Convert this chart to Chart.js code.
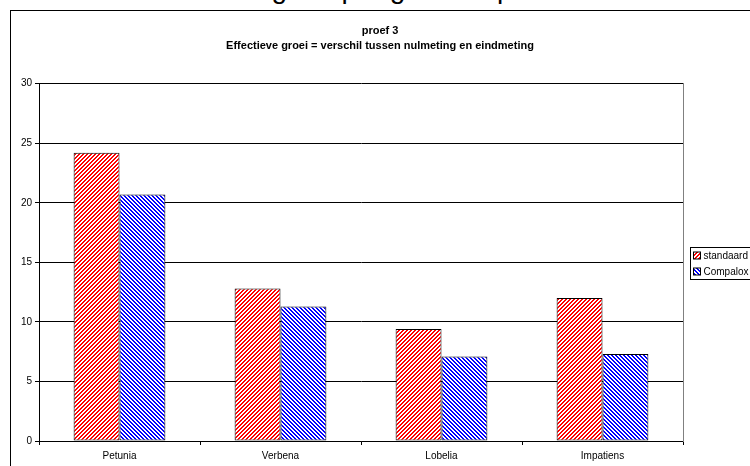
<!DOCTYPE html>
<html>
<head>
<meta charset="utf-8">
<script src="https://cdn.jsdelivr.net/npm/chart.js@4"></script>
<style>
  html, body { margin: 0; padding: 0; background: #fff; overflow: hidden; }
  #wrap { position: relative; width: 750px; height: 466px; }
  #caption { position: absolute; left: 12px; top: -25px; font: 28px/28px "Liberation Sans", Arial, sans-serif; color: #000; white-space: nowrap; }
  #frame { position: absolute; left: 10px; top: 10px; width: 780px; height: 480px; border: 1px solid #000; box-sizing: border-box; }
  canvas { position: absolute; left: 0; top: 0; }
</style>
</head>
<body>
<div id="wrap">
  <div id="caption">Grafiek 3: Effectieve groei per gebruikt product</div>
  <div id="frame"></div>
  <canvas id="chart" width="750" height="466"></canvas>
</div>
<script>
  const categories = ['Petunia', 'Verbena', 'Lobelia', 'Impatiens'];
  const standaard = [24.2, 12.8, 9.4, 12.0];
  const compalox = [20.7, 11.3, 7.1, 7.3];
  const titleLines = ['proef 3', 'Effectieve groei = verschil tussen nulmeting en eindmeting'];

  const font = '"Liberation Sans", Arial, sans-serif';
  Chart.defaults.font.family = font;
  Chart.defaults.color = '#000';

  // small pixel tiles, like the excel fill patterns
  const makePattern = (color, isOn) => {
    const tile = document.createElement('canvas');
    tile.width = 4;
    tile.height = 4;
    const tctx = tile.getContext('2d');
    tctx.fillStyle = '#fff';
    tctx.fillRect(0, 0, 4, 4);
    tctx.fillStyle = color;
    for (let x = 0; x < 4; x++) {
      for (let y = 0; y < 4; y++) {
        if (isOn(x, y)) tctx.fillRect(x, y, 1, 1);
      }
    }
    return tctx.createPattern(tile, 'repeat');
  };

  const redFill = makePattern('#ff0000', (x, y) => (x + y) % 4 < 2);
  const blueFill = makePattern('#0000ff', (x, y) => (x - y + 8) % 4 < 2);

  const legendBox = {
    id: 'legendBox',
    afterDraw(chart) {
      const ctx = chart.ctx;
      const x = 690.5;
      const y = 247.5;
      ctx.save();
      ctx.fillStyle = '#fff';
      ctx.fillRect(x, y, 80, 32);
      ctx.strokeStyle = '#000';
      ctx.lineWidth = 1;
      ctx.strokeRect(x, y, 80, 32);
      ctx.font = '10px ' + font;
      ctx.textBaseline = 'middle';
      chart.data.datasets.forEach((ds, i) => {
        const cy = y + 8.5 + i * 16;
        ctx.fillStyle = ds.backgroundColor;
        ctx.fillRect(x + 3, cy - 4, 7, 7);
        ctx.strokeRect(x + 3, cy - 4, 7, 7);
        ctx.fillStyle = '#000';
        ctx.fillText(ds.label, x + 13, cy);
      });
      ctx.restore();
    },
  };

  new Chart(document.querySelector('#chart'), {
    type: 'bar',
    data: {
      labels: categories,
      datasets: [
        { label: 'standaard', data: standaard, backgroundColor: redFill, borderColor: '#000', borderWidth: 1, borderSkipped: false },
        { label: 'Compalox', data: compalox, backgroundColor: blueFill, borderColor: '#000', borderWidth: 1, borderSkipped: false },
      ],
    },
    options: {
      responsive: false,
      animation: false,
      layout: { padding: { left: 10, top: 10, right: 0, bottom: 0 } },
      datasets: { bar: { categoryPercentage: 0.57, barPercentage: 1 } },
      plugins: {
        legend: { display: false },
        tooltip: { enabled: false },
        title: {
          display: true,
          text: titleLines,
          color: '#000',
          font: { size: 11, weight: 'bold', lineHeight: 1.35 },
          padding: { top: 14, bottom: 30 },
        },
      },
      scales: {
        x: {
          grid: { drawOnChartArea: false, tickLength: 4, color: '#000' },
          border: { color: '#000' },
          ticks: { font: { size: 10 }, color: '#000', padding: 5, maxRotation: 0 },
          afterFit: (scale) => { scale.height = 25; },
        },
        y: {
          min: 0,
          max: 30,
          ticks: { stepSize: 5, font: { size: 10 }, color: '#000', padding: 3 },
          grid: { color: '#000', tickLength: 4 },
          border: { color: '#000' },
          afterFit: (scale) => { scale.width = 29; },
        },
        y2: {
          type: 'linear',
          position: 'right',
          ticks: { display: false },
          grid: { drawOnChartArea: false, drawTicks: false },
          border: { color: '#808080' },
          afterFit: (scale) => { scale.width = 67; },
        },
      },
    },
    plugins: [legendBox],
  });
</script>
</body>
</html>
